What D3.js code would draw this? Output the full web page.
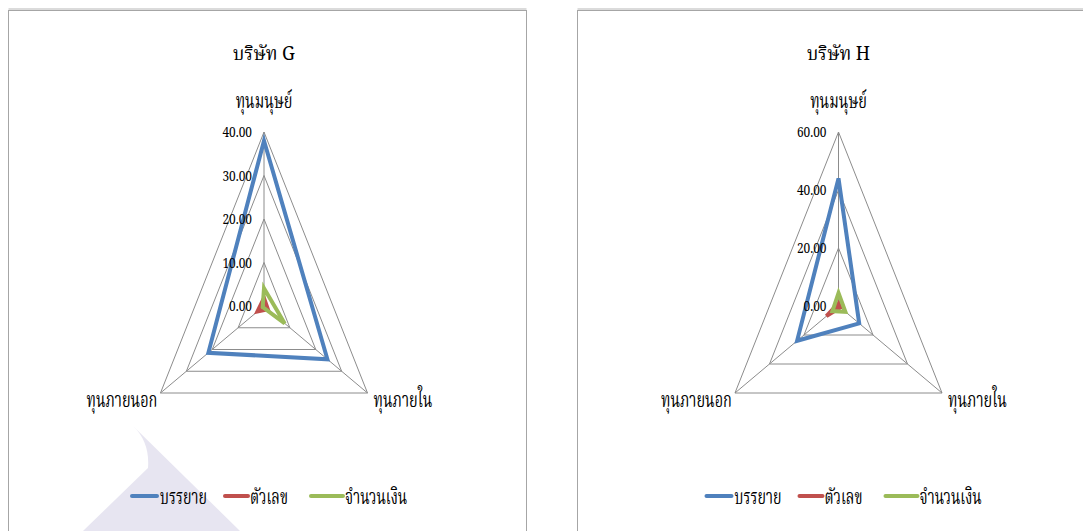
<!DOCTYPE html>
<html><head><meta charset="utf-8">
<script src="https://cdn.jsdelivr.net/npm/d3@7"></script>
<style>
html,body{margin:0;padding:0;background:#fff;}
svg{display:block;}
text{font-family:"Noto Serif Thai","Noto Sans Thai","Noto Sans","Liberation Sans",sans-serif;fill:#000;}
</style></head>
<body>
<script>
// ---- data ----
const categories = ["ทุนมนุษย์", "ทุนภายใน", "ทุนภายนอก"];
const seriesNames = ["บรรยาย", "ตัวเลข", "จำนวนเงิน"];
const seriesColors = ["#4f81bd", "#c0504d", "#9bbb59"];
const titles = ["บริษัท G", "บริษัท H"];
const gNarrative = [38, 24.5, 21.5];
const gNumeric = [1.8, 1.5, 2.5];
const gAmount = [4.1, 8, 0.5];
const hNarrative = [44, 12, 24];
const hNumeric = [1, 1, 7];
const hAmount = [4.5, 4, 3.5];
const gTicks = [0, 10, 20, 30, 40];
const hTicks = [0, 20, 40, 60];
const tickLabelsG = ["0.00", "10.00", "20.00", "30.00", "40.00"];
const tickLabelsH = ["0.00", "20.00", "40.00", "60.00"];

const W = 1083, H = 531;
const svg = d3.select("body").append("svg").attr("width", W).attr("height", H);

// watermark (faint background decoration)
svg.append("path")
  .attr("d", "M133,426 L240,531 L83,531 L148,468 Q150,442 133,426 Z")
  .attr("fill", "#e7e5f1");

const boxes = [{x: 8.5, y: 10.5, w: 518}, {x: 577.5, y: 10.5, w: 520}];
boxes.forEach(b => {
  svg.append("rect").attr("x", b.x).attr("y", b.y).attr("width", b.w).attr("height", 560)
    .attr("fill", "none").attr("stroke", "#a6a6a6").attr("stroke-width", 1);
  svg.append("line").attr("x1", b.x).attr("x2", b.x + b.w).attr("y1", b.y - 1.5).attr("y2", b.y - 1.5)
    .attr("stroke", "#cfcfcf").attr("stroke-width", 1.5);
});

const charts = [
  {cx: 264, title: titles[0], series: [gNarrative, gNumeric, gAmount], ticks: gTicks, tickLabels: tickLabelsG},
  {cx: 838.5, title: titles[1], series: [hNarrative, hNumeric, hAmount], ticks: hTicks, tickLabels: tickLabelsH}
];

const cy = 306, R = 174, SX = 0.687;

function stext(g, x, y, str, size, anchor, tx) {
  return g.append("g").attr("transform", `translate(${x},${y}) scale(${tx},1)`)
    .append("text").attr("font-size", size).attr("text-anchor", anchor).text(str);
}

charts.forEach(c => {
  const g = svg.append("g");
  const maxV = c.ticks[c.ticks.length - 1];
  const r = d3.scaleLinear().domain([0, maxV]).range([0, R]);
  const ang = d3.scaleOrdinal().domain(categories).range(categories.map((d, i) => i * 2 * Math.PI / categories.length));

  const plot = g.append("g").attr("transform", `translate(${c.cx},${cy}) scale(${SX},1)`);
  const radial = d3.lineRadial().curve(d3.curveLinearClosed);

  // grid rings
  c.ticks.filter(t => t > 0).forEach(t => {
    plot.append("path")
      .attr("d", radial(categories.map(k => [ang(k), r(t)])))
      .attr("fill", "none").attr("stroke", "#8c8c8c").attr("stroke-width", 1)
      .attr("vector-effect", "non-scaling-stroke");
  });
  // spokes
  categories.forEach(k => {
    const a = ang(k);
    plot.append("line").attr("x1", 0).attr("y1", 0)
      .attr("x2", r(maxV) * Math.sin(a)).attr("y2", -r(maxV) * Math.cos(a))
      .attr("stroke", "#8c8c8c").attr("stroke-width", 1)
      .attr("vector-effect", "non-scaling-stroke");
  });
  // series
  c.series.forEach((vals, si) => {
    plot.append("path")
      .attr("d", radial(categories.map((k, i) => [ang(k), r(vals[i])])))
      .attr("fill", "none").attr("stroke", seriesColors[si]).attr("stroke-width", 4)
      .attr("stroke-linejoin", "miter")
      .attr("vector-effect", "non-scaling-stroke");
  });

  // tick labels
  c.ticks.forEach((t, i) => {
    stext(g, c.cx - 12, cy - r(t) + 5, c.tickLabels[i], 14, "end", 0.85);
  });

  // title
  stext(g, c.cx, 60, c.title, 20, "middle", 0.9);

  // category labels
  const vx = R * Math.sin(2 * Math.PI / 3) * SX;
  stext(g, c.cx, 108, categories[0], 22, "middle", 0.66);
  stext(g, c.cx + vx + 6, 407, categories[1], 22, "start", 0.66);
  stext(g, c.cx - vx - 3, 407, categories[2], 22, "end", 0.66);

  // legend
  const leg = [{x1: -132, x2: -107, tx: -104}, {x1: -39, x2: -16, tx: -14}, {x1: 47, x2: 79, tx: 81}];
  seriesNames.forEach((s, i) => {
    g.append("line").attr("x1", c.cx + leg[i].x1).attr("x2", c.cx + leg[i].x2)
      .attr("y1", 496).attr("y2", 496)
      .attr("stroke", seriesColors[i]).attr("stroke-width", 4).attr("stroke-linecap", "round");
    stext(g, c.cx + leg[i].tx, 504, s, 21, "start", 0.68);
  });
});
</script>
</body></html>
